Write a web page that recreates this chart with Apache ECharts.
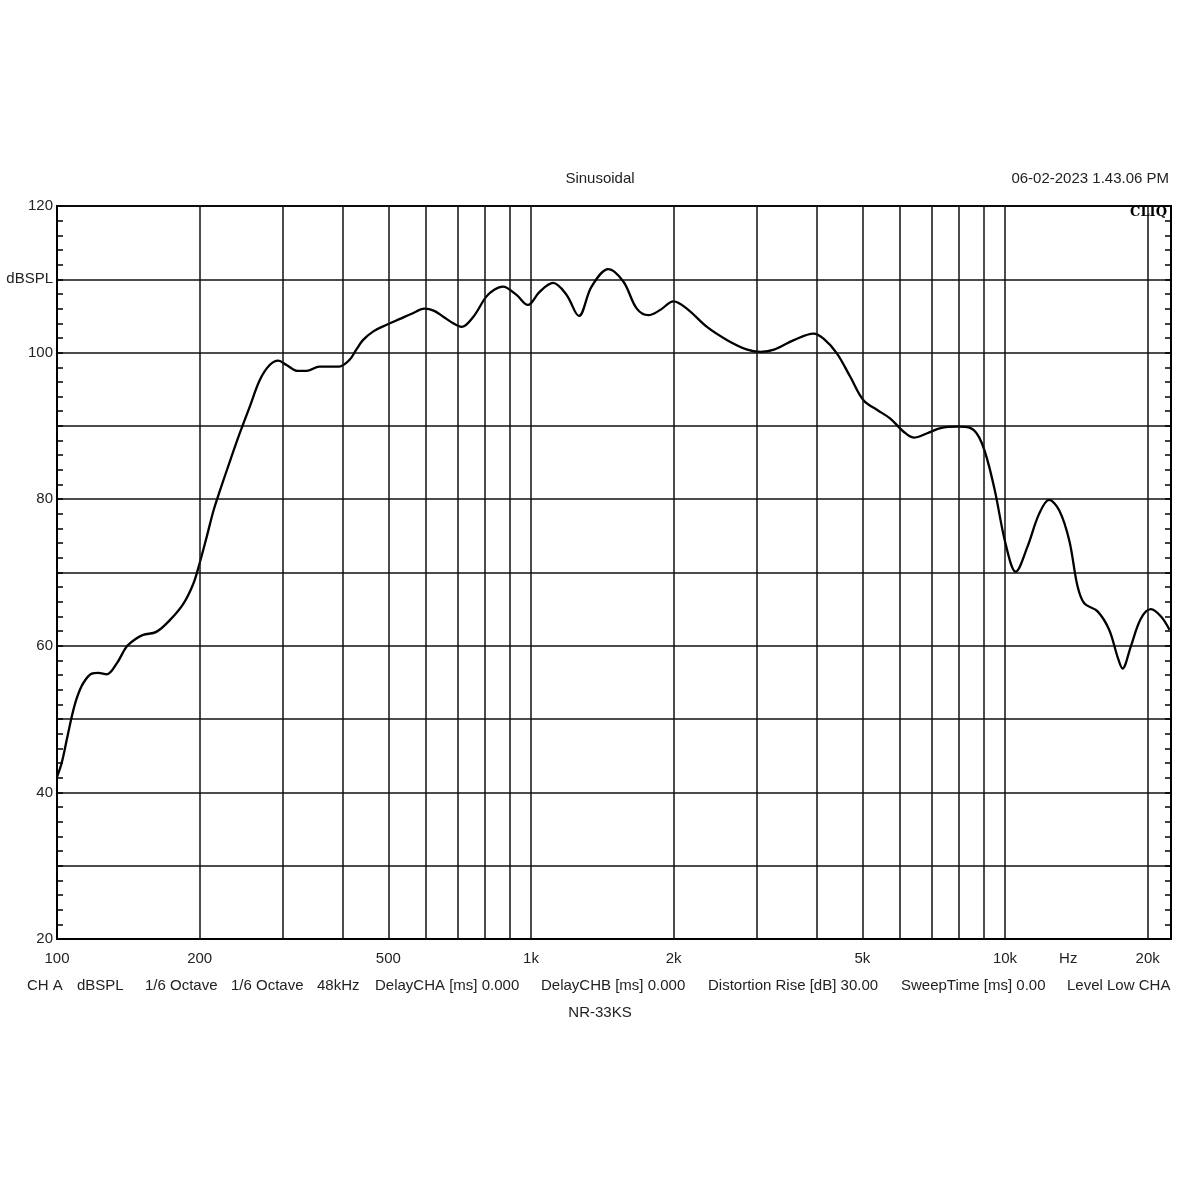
<!DOCTYPE html>
<html>
<head>
<meta charset="utf-8">
<script src="https://cdn.jsdelivr.net/npm/echarts@6/dist/echarts.min.js"></script>
<style>
html,body{margin:0;padding:0;background:#fff;}
#c{width:1200px;height:1200px;}
</style>
</head>
<body>
<div id="c"></div>
<script>
// Frequency (Hz) and SPL (dB)
const freqHz = [100, 102.3, 104.8, 107.4, 110, 113.6, 118.4, 122.2, 127.3, 133.7, 140.3, 147, 152, 162, 173, 185, 194, 200, 207, 214, 221, 232, 243, 255, 268, 281, 293, 305, 322, 336, 358, 394, 414, 428, 442, 465, 496, 529, 560, 596, 625, 653, 685, 714, 756, 804, 838, 872, 931, 985, 1043, 1113, 1188, 1262, 1342, 1456, 1566, 1672, 1770, 1872, 1998, 2132, 2351, 2594, 2859, 3052, 3257, 3585, 3946, 4142, 4419, 4716, 5029, 5367, 5729, 6112, 6419, 6853, 7313, 7931, 8465, 8944, 9480, 10023, 10537, 11152, 11802, 12392, 13012, 13662, 14229, 14695, 15678, 16586, 17276, 17698, 18425, 19344, 20318, 21339, 22235];
const splDb = [42.1, 44.0, 47.1, 50.3, 52.8, 54.9, 56.2, 56.3, 56.1, 57.6, 59.9, 61.0, 61.5, 61.9, 63.5, 65.8, 68.5, 71.3, 74.9, 78.5, 81.3, 85.3, 89.0, 92.6, 96.3, 98.3, 98.9, 98.3, 97.5, 97.5, 98.1, 98.1, 99.0, 100.4, 101.7, 102.9, 103.8, 104.6, 105.3, 106.0, 105.7, 104.9, 104.0, 103.5, 104.9, 107.6, 108.6, 109.0, 107.9, 106.5, 108.3, 109.5, 107.9, 105.0, 109.0, 111.4, 109.7, 106.0, 105.1, 105.8, 107.0, 106.0, 103.5, 101.7, 100.4, 100.1, 100.4, 101.7, 102.6, 101.9, 99.9, 96.7, 93.5, 92.2, 91.0, 89.2, 88.4, 89.0, 89.7, 89.9, 89.7, 87.6, 81.7, 74.0, 70.1, 73.5, 78.0, 79.9, 78.5, 74.4, 68.1, 65.8, 64.7, 62.2, 58.5, 56.9, 59.9, 63.7, 65.0, 64.0, 62.2];

// Vertical grid lines (Hz) and labelled frequencies
const gridFreqs = [200, 300, 400, 500, 600, 700, 800, 900, 2000, 3000, 4000, 5000, 6000, 7000, 8000, 9000, 20000];
const labelledFreqs = [200, 500, 2000, 5000, 20000];
const decadeLabels = [100, 1000, 10000];
const unitLabelFreq = 13600;
const xMin = 100, xMax = 22400;
const yMin = 20, yMax = 120, yStep = 10;

const titleText = 'Sinusoidal';
const dateText = '06-02-2023 1.43.06 PM';
const brandText = 'CLIQ';
const footerItems = ['CH A', 'dBSPL', '1/6 Octave', '1/6 Octave', '48kHz', 'DelayCHA [ms] 0.000', 'DelayCHB [ms] 0.000', 'Distortion Rise [dB] 30.00', 'SweepTime [ms] 0.00', 'Level Low CHA'];
const footerX = [27, 77, 145, 231, 317, 375, 541, 708, 901, 1067];
const subtitleText = 'NR-33KS';

const FONT = '"Liberation Sans", Arial, sans-serif';
const FS = 15;
const fmtHz = v => v >= 1000 ? (v / 1000) + 'k' : String(v);

const chart = echarts.init(document.getElementById('c'), null, {renderer: 'canvas'});

const mlData = gridFreqs.map(f => ({
  xAxis: f,
  label: labelledFreqs.includes(f) ? {show: true, formatter: fmtHz(f)} : {show: false}
}));
mlData.push({xAxis: unitLabelFreq, lineStyle: {color: 'rgba(0,0,0,0)', width: 0}, label: {show: true, formatter: 'Hz'}});

const footerGraphics = footerItems.map((t, i) => ({
  type: 'text', left: footerX[i], top: 978,
  style: {text: t, font: FS + 'px ' + FONT, fill: '#222'}
}));

chart.setOption({
  animation: false,
  backgroundColor: '#fff',
  grid: {left: 57, right: 29, top: 206, bottom: 261, show: true, borderColor: '#000', borderWidth: 2, backgroundColor: 'transparent'},
  xAxis: {
    type: 'log', logBase: 10, min: xMin, max: xMax,
    axisLine: {show: true, lineStyle: {color: '#000', width: 2}},
    axisTick: {show: false},
    minorTick: {show: false},
    splitLine: {show: true, lineStyle: {color: '#111', width: 1.5}},
    axisLabel: {show: true, showMaxLabel: false, formatter: v => decadeLabels.includes(Math.round(v)) ? fmtHz(Math.round(v)) : '', color: '#222', fontSize: FS, fontFamily: FONT, margin: 12}
  },
  yAxis: [{
    type: 'value', min: yMin, max: yMax, interval: yStep, position: 'left',
    axisLine: {show: true, lineStyle: {color: '#000', width: 2}},
    axisTick: {show: true, inside: true, length: 6, lineStyle: {color: '#000', width: 1.5}},
    minorTick: {show: true, splitNumber: 5, length: 6, lineStyle: {color: '#000', width: 1.5}},
    splitLine: {show: true, lineStyle: {color: '#111', width: 1.5}},
    axisLabel: {
      color: '#222', fontSize: FS, fontFamily: FONT, margin: 4,
      formatter: v => v === 110 ? 'dBSPL' : (v % 20 === 0 ? String(v) : '')
    }
  }, {
    type: 'value', min: yMin, max: yMax, interval: yStep, position: 'right',
    axisLine: {show: true, lineStyle: {color: '#000', width: 2}},
    axisTick: {show: true, inside: true, length: 6, lineStyle: {color: '#000', width: 1.5}},
    minorTick: {show: true, splitNumber: 5, length: 6, lineStyle: {color: '#000', width: 1.5}},
    splitLine: {show: false},
    axisLabel: {show: false}
  }],
  series: [{
    type: 'line', z: 1, data: [], silent: true,
    markLine: {
      silent: true, symbol: 'none', animation: false,
      lineStyle: {color: '#111', width: 1.5, type: 'solid'},
      label: {position: 'start', distance: 12, color: '#222', fontSize: FS, fontFamily: FONT},
      emphasis: {disabled: true},
      data: mlData
    }
  }, {
    type: 'line', z: 3,
    data: freqHz.map((f, i) => [f, splDb[i]]),
    smooth: 0.35, showSymbol: false, symbol: 'none',
    lineStyle: {color: '#000', width: 2.3}
  }],
  graphic: [
    {type: 'text', left: 'center', top: 171, style: {text: titleText, font: FS + 'px ' + FONT, fill: '#222'}},
    {type: 'text', right: 31, top: 171, style: {text: dateText, font: FS + 'px ' + FONT, fill: '#222'}},
    {type: 'text', right: 33, top: 206, z: 10, style: {text: brandText, font: 'bold 13px "DejaVu Serif", "Liberation Serif", serif', fill: '#000'}},
    {type: 'text', left: 'center', top: 1005, style: {text: subtitleText, font: FS + 'px ' + FONT, fill: '#222'}}
  ].concat(footerGraphics)
});
</script>
</body>
</html>
